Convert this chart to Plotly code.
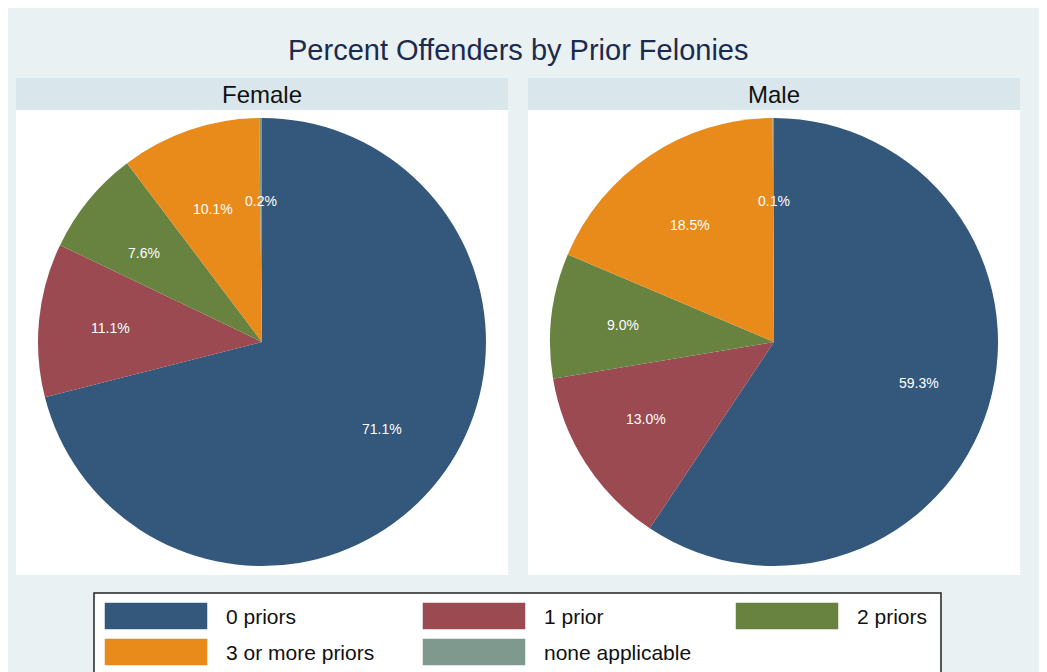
import math
import plotly.graph_objects as go

W, H = 1039, 664
OFF = 8  # page body margin

categories = ["0 priors", "1 prior", "2 priors", "3 or more priors", "none applicable"]
colors = ["#33587b", "#9a4a50", "#67833f", "#e88b1b", "#7f998e"]
panels = ["Female", "Male"]
female_pct = [71.1, 11.1, 7.6, 10.1, 0.2]
male_pct = [59.3, 13.0, 9.0, 18.5, 0.1]
female_labels = ["71.1%", "11.1%", "7.6%", "10.1%", "0.2%"]
male_labels = ["59.3%", "13.0%", "9.0%", "18.5%", "0.1%"]

FONT = "Liberation Sans, Arial, sans-serif"


def px(x):
    return (x - OFF) / W


def py(y):
    return 1 - (y - OFF) / H


fig = go.Figure()
shapes = []
annotations = []

panel_left = [16, 528]
panel_w = 492
radius = 224
cy = 342
lab_rx, lab_ry = 152, 141

for i, (name, vals, labs) in enumerate(zip(panels, [female_pct, male_pct], [female_labels, male_labels])):
    left = panel_left[i]
    cx = left + panel_w / 2
    shapes.append(dict(type="rect", xref="paper", yref="paper", x0=px(left), x1=px(left + panel_w),
                       y0=py(110), y1=py(78), fillcolor="#d9e6eb", line=dict(width=0), layer="below"))
    shapes.append(dict(type="rect", xref="paper", yref="paper", x0=px(left), x1=px(left + panel_w),
                       y0=py(575), y1=py(110), fillcolor="white", line=dict(width=0), layer="below"))
    annotations.append(dict(text=name, x=px(cx), y=py(94), xref="paper", yref="paper", showarrow=False,
                            font=dict(family=FONT, size=24, color="#111111"),
                            xanchor="center", yanchor="middle"))
    fig.add_trace(go.Pie(
        labels=categories, values=vals, sort=False, direction="clockwise", rotation=0,
        marker=dict(colors=colors, line=dict(width=0)), textinfo="none", hoverinfo="label+percent",
        showlegend=False,
        domain=dict(x=[px(cx - radius), px(cx + radius)], y=[py(cy + radius), py(cy - radius)]),
    ))
    total = sum(vals)
    cum = 0.0
    for v, lab in zip(vals, labs):
        mid = (cum + v / 2) / total * 2 * math.pi
        cum += v
        lx = cx + lab_rx * math.sin(mid)
        ly = cy - lab_ry * math.cos(mid)
        annotations.append(dict(text=lab, x=px(lx), y=py(ly), xref="paper", yref="paper", showarrow=False,
                                font=dict(family=FONT, size=14, color="white"),
                                xanchor="center", yanchor="middle"))

annotations.append(dict(text="Percent Offenders by Prior Felonies", x=px(518), y=py(50), xref="paper", yref="paper",
                        showarrow=False, font=dict(family=FONT, size=29, color="#1c2a4e"),
                        xanchor="center", yanchor="middle"))

# legend
shapes.append(dict(type="rect", xref="paper", yref="paper", x0=px(94), x1=px(941), y0=py(690), y1=py(593),
                   fillcolor="white", line=dict(color="#222222", width=1.5)))
sw_x = [105, 423, 736]
sw_w = 102
row_y = [603, 639]
sw_h = 26
for k, (cat, col) in enumerate(zip(categories, colors)):
    r, c = divmod(k, 3)
    x0 = sw_x[c]
    y0 = row_y[r]
    shapes.append(dict(type="rect", xref="paper", yref="paper", x0=px(x0), x1=px(x0 + sw_w),
                       y0=py(y0 + sw_h), y1=py(y0), fillcolor=col, line=dict(color=col, width=0.5)))
    annotations.append(dict(text=cat, x=px(x0 + sw_w + 17), y=py(y0 + sw_h / 2), xref="paper", yref="paper",
                            showarrow=False, font=dict(family=FONT, size=21, color="#111111"),
                            xanchor="left", yanchor="middle"))

fig.update_layout(
    width=W, height=H, autosize=False,
    margin=dict(l=0, r=0, t=0, b=0),
    paper_bgcolor="#e9f1f3", plot_bgcolor="#e9f1f3",
    shapes=shapes, annotations=annotations,
    showlegend=False,
)

fig.write_html("out.html")
